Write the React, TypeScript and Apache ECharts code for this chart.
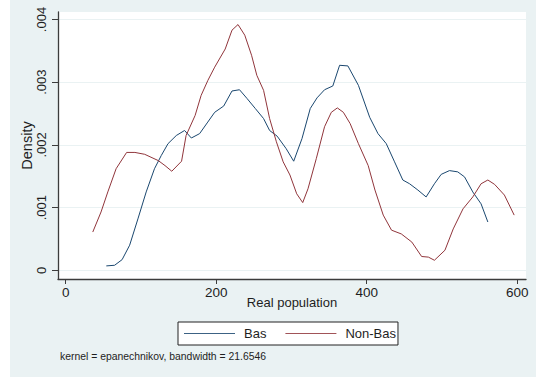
import React, { useEffect, useRef } from "react";
import * as echarts from "echarts";

const basX = [54, 65, 75, 85, 96, 107, 118, 127, 136, 147, 158, 167, 178, 188, 198, 210, 221, 231, 241, 252, 263, 271, 281, 293, 303, 314, 325, 334, 344, 355, 364, 375, 389, 404, 415, 426, 437, 448, 457, 468, 479, 490, 499, 510, 521, 530, 541, 552, 561];
const basY = [0.00007, 0.00008, 0.00017, 0.0004, 0.00082, 0.00125, 0.00162, 0.00183, 0.00202, 0.00215, 0.00223, 0.00211, 0.00218, 0.00235, 0.00252, 0.00262, 0.00286, 0.00288, 0.00274, 0.00258, 0.00242, 0.00223, 0.00214, 0.00194, 0.00174, 0.0021, 0.00258, 0.00275, 0.00288, 0.00294, 0.00327, 0.00326, 0.00295, 0.00244, 0.00218, 0.00202, 0.00173, 0.00144, 0.00138, 0.00128, 0.00117, 0.00138, 0.00153, 0.00159, 0.00157, 0.00149, 0.00125, 0.00106, 0.00077];

const nonBasX = [36, 47, 56, 67, 81, 92, 105, 123, 132, 141, 154, 160, 172, 180, 189, 198, 212, 221, 229, 238, 247, 254, 263, 271, 280, 289, 298, 307, 315, 322, 333, 344, 353, 361, 369, 378, 389, 402, 411, 422, 433, 446, 460, 473, 482, 490, 504, 515, 528, 541, 552, 561, 570, 583, 596];
const nonBasY = [0.00061, 0.00093, 0.00125, 0.00162, 0.00188, 0.00188, 0.00185, 0.00175, 0.00167, 0.00158, 0.00174, 0.00215, 0.00247, 0.00279, 0.00303, 0.00324, 0.00353, 0.00383, 0.00392, 0.00375, 0.00343, 0.00311, 0.00287, 0.00242, 0.00205, 0.00173, 0.00152, 0.00122, 0.00108, 0.0013, 0.00178, 0.00229, 0.00252, 0.00259, 0.00252, 0.00234, 0.00202, 0.00167, 0.00128, 0.00088, 0.00064, 0.00058, 0.00045, 0.00022, 0.00021, 0.00016, 0.00032, 0.00066, 0.00098, 0.00117, 0.00138, 0.00144, 0.00137, 0.0012, 0.00088];

const xTicks = [0, 200, 400, 600];
const yTicks = [0, 0.001, 0.002, 0.003, 0.004];
const seriesNames = ["Bas", "Non-Bas"];
const seriesColors = ["#1a476f", "#90353b"];
const noteText = "kernel = epanechnikov, bandwidth = 21.6546";

const FONT = "'Liberation Sans', Arial, sans-serif";
const BG = "#eaf2f3";
const AXIS = "#3c3c3c";
const TEXT = "#1e1e1e";

function zip(xs: number[], ys: number[]) {
  return xs.map((x, i) => [x, ys[i]]);
}

export default function App() {
  const ref = useRef<HTMLDivElement>(null);
  useEffect(() => {
    if (!ref.current) return;
    const chart = echarts.init(ref.current, undefined, { renderer: "svg" });
    chart.setOption({
      animation: false,
      backgroundColor: "#ffffff",
      textStyle: { fontFamily: FONT },
      graphic: [
        {
          type: "rect",
          z: -100,
          silent: true,
          shape: { x: 10, y: 0, width: 526, height: 377 },
          style: { fill: BG },
        },
        {
          type: "text",
          left: 60,
          top: 351,
          style: { text: noteText, fontSize: 10.4, fill: TEXT, fontFamily: FONT },
        },
      ],
      grid: {
        left: 58,
        top: 12,
        width: 468,
        height: 267,
        show: true,
        backgroundColor: "#ffffff",
        borderWidth: 0,
        containLabel: false,
        outerBoundsMode: "none",
      },
      legend: {
        left: 178,
        top: 322,
        orient: "horizontal",
        data: seriesNames.map((n, i) => ({
          name: n,
          icon: "rect",
          itemStyle: { color: seriesColors[i], borderWidth: 0, opacity: 0.85 },
        })),
        backgroundColor: "#ffffff",
        borderColor: "#222",
        borderWidth: 1,
        borderRadius: 0,
        padding: [4, 2, 4, 6],
        itemWidth: 51,
        itemHeight: 1.2,
        itemGap: 19,
        textStyle: { fontSize: 13, color: TEXT, fontFamily: FONT, padding: [0, 0, 0, 4], lineHeight: 15 },
      },
      xAxis: {
        type: "value",
        min: -10.2,
        max: 611.7,
        name: "Real population",
        nameLocation: "middle",
        nameGap: 17,
        nameMoveOverlap: false,
        nameTextStyle: { fontSize: 13, color: TEXT, fontFamily: FONT },
        axisLine: { show: true, onZero: false, lineStyle: { color: AXIS, width: 1.3 } },
        axisTick: { show: true, length: 5, customValues: xTicks, lineStyle: { color: AXIS } },
        axisLabel: { customValues: xTicks, margin: 6, fontSize: 13.5, color: TEXT, fontFamily: FONT },
        splitLine: { show: false },
      },
      yAxis: {
        type: "value",
        min: -0.000139,
        max: 0.00412,
        name: "Density",
        nameLocation: "middle",
        nameRotate: 90,
        nameGap: 24,
        nameMoveOverlap: false,
        nameTextStyle: { fontSize: 14.5, color: TEXT, fontFamily: FONT },
        axisLine: { show: true, onZero: false, lineStyle: { color: AXIS, width: 1.3 } },
        axisTick: { show: true, length: 6, customValues: yTicks, lineStyle: { color: AXIS } },
        axisLabel: {
          customValues: yTicks,
          rotate: 90,
          margin: 10,
          fontSize: 13,
          color: TEXT,
          fontFamily: FONT,
          formatter: (v: number) => (v === 0 ? "0" : v.toFixed(3).replace(/^0/, "")),
        },
        splitLine: { show: true, lineStyle: { color: BG, width: 1 } },
      },
      series: [
        {
          name: seriesNames[0],
          type: "line",
          data: zip(basX, basY),
          symbol: "none",
          smooth: false,
          lineStyle: { color: seriesColors[0], width: 1 },
          itemStyle: { color: seriesColors[0] },
        },
        {
          name: seriesNames[1],
          type: "line",
          data: zip(nonBasX, nonBasY),
          symbol: "none",
          smooth: false,
          lineStyle: { color: seriesColors[1], width: 1 },
          itemStyle: { color: seriesColors[1] },
        },
      ],
    });
    return () => chart.dispose();
  }, []);
  return (
    <div
      ref={ref}
      style={{ position: "fixed", left: 0, top: 0, width: 536, height: 379 }}
    />
  );
}
